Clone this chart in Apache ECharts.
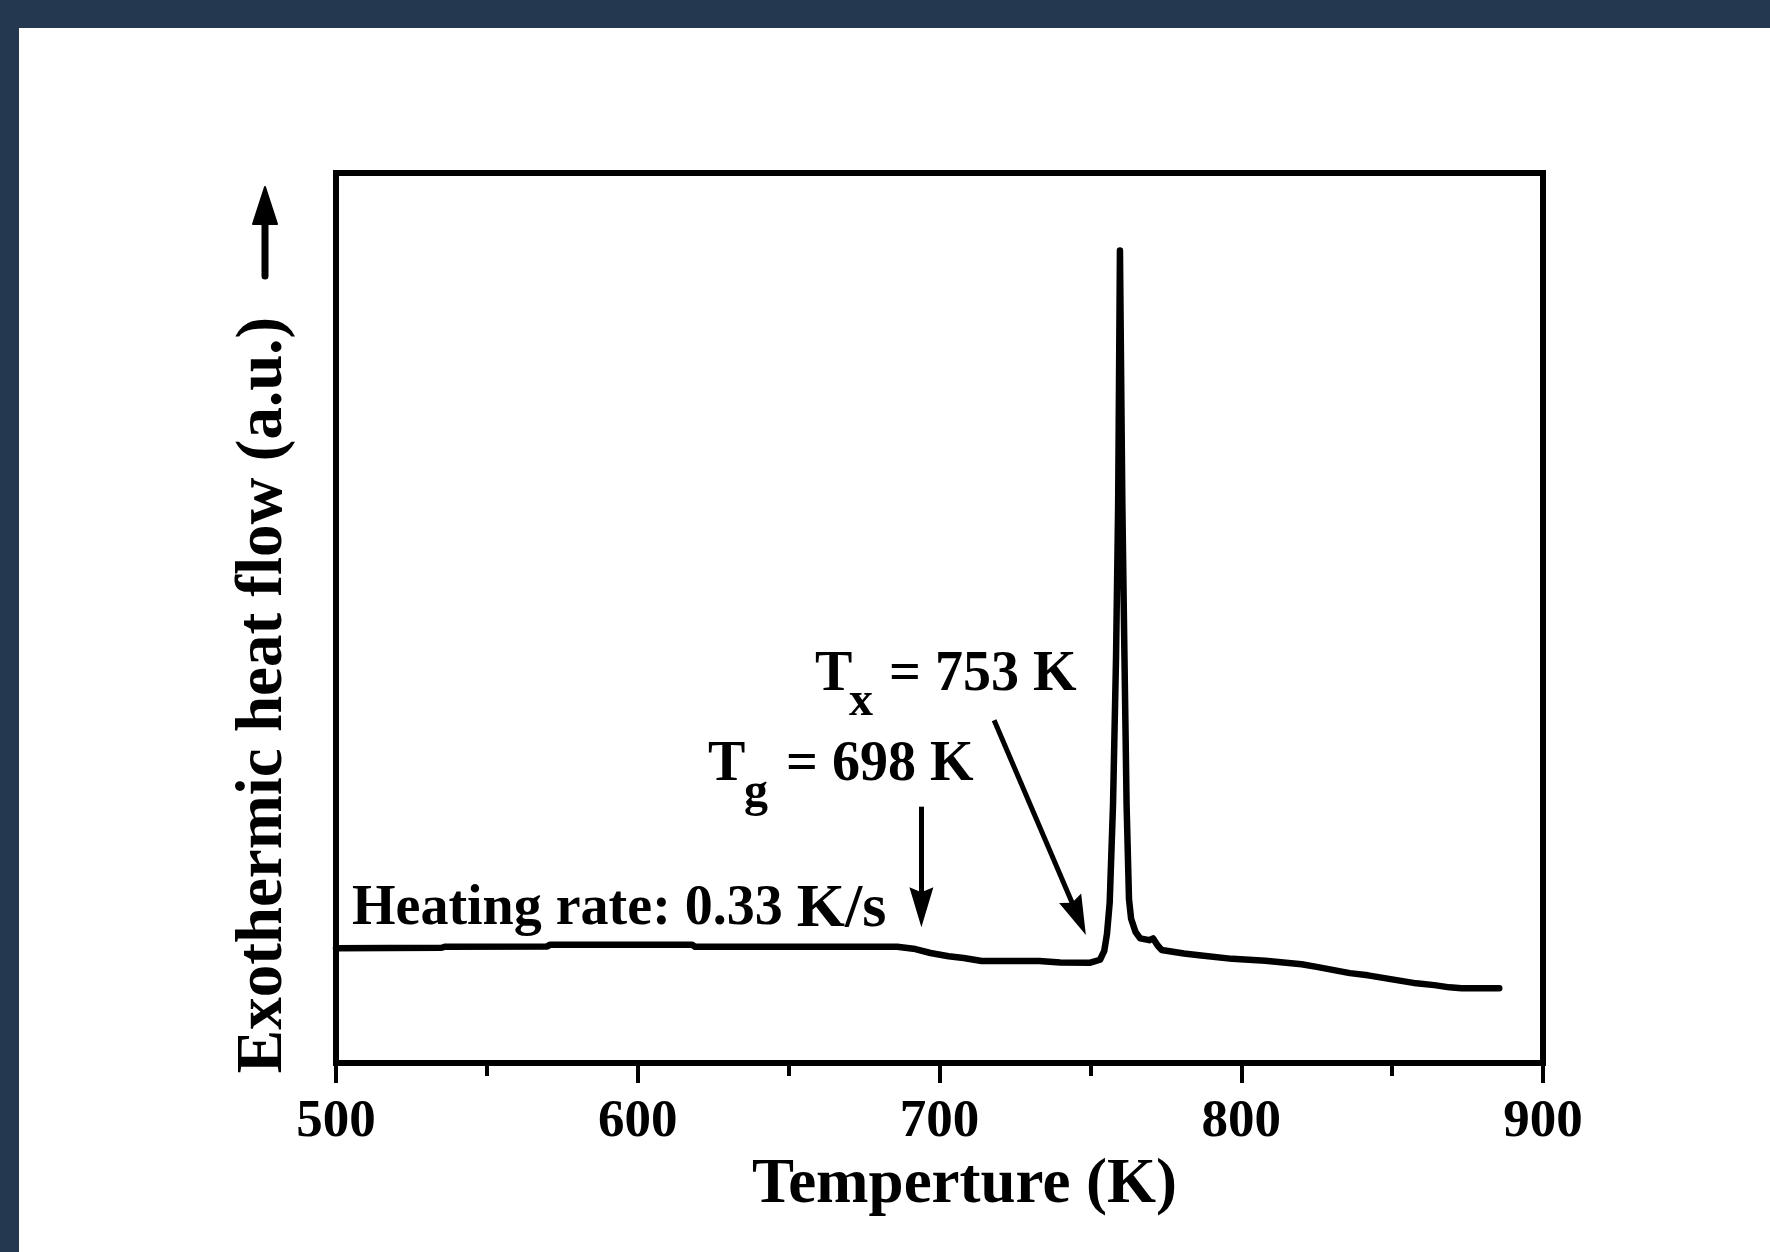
<!DOCTYPE html>
<html>
<head>
<meta charset="utf-8">
<script src="https://cdn.jsdelivr.net/npm/echarts/dist/echarts.min.js"></script>
<style>
  html, body { margin: 0; padding: 0; width: 1770px; height: 1252px; background: #243850; overflow: hidden; }
  #dsc { position: absolute; left: 19px; top: 28px; width: 1751px; height: 1224px; background: #ffffff; }
</style>
</head>
<body>
<div id="dsc"></div>
<script>
// DSC trace (temperature in K, heat flow in arbitrary units)
const temperature = [500, 535, 536, 570, 571, 618, 619, 664, 686, 692,
  697, 703, 708, 714, 733, 740, 750, 753.2, 754.6, 755.5,
  756.4, 757.5, 758.5, 759.2, 759.8, 760.6, 761.3, 762.0, 762.8, 763.5,
  765.0, 766.5, 769.5, 770.8, 772.3, 773.6, 781, 786, 797, 808,
  820, 825, 836, 842, 858, 864, 869, 873, 885.5];
const heatFlow = [12.9, 12.95, 13.05, 13.1, 13.3, 13.3, 13.05, 13.05, 13.07, 12.8,
  12.36, 12.0, 11.8, 11.46, 11.46, 11.3, 11.27, 11.6, 12.6, 14.5,
  18.0, 29, 45.5, 62.6, 91.3, 62.6, 45.5, 29, 18.4, 16.2,
  14.7, 14.0, 13.8, 14.0, 13.2, 12.7, 12.3, 12.1, 11.7, 11.5,
  11.1, 10.8, 10.1, 9.85, 8.95, 8.75, 8.5, 8.4, 8.4];
const xTicks = [500, 600, 700, 800, 900];

// annotation arrows [from, to] in data coords
const tgArrow = [[694, 28.8], [694, 17.5]];
const txArrow = [[718.1, 38.5], [745.9, 16.45]];

const font = 'Liberation Serif';
const arrowHead = 'path://M12,0 L24,40 L12,35 L0,40 Z';

const chart = echarts.init(document.getElementById('dsc'));

function arrowLine(a) {
  return [{ coord: a[0] }, { coord: a[1], symbol: arrowHead, symbolSize: [24, 40] }];
}

const option = {
  animation: false,
  backgroundColor: '#ffffff',
  grid: {
    left: 317, right: 227, top: 145, bottom: 189,
    containLabel: false,
    outerBoundsMode: 'none',
    show: true,
    borderColor: '#000',
    borderWidth: 6
  },
  xAxis: {
    type: 'value',
    min: xTicks[0],
    max: xTicks[xTicks.length - 1],
    interval: 100,
    name: 'Temperture (K)',
    nameLocation: 'middle',
    nameGap: 73,
    nameTextStyle: { fontFamily: font, fontWeight: 'bold', fontSize: 63, color: '#000', padding: [0, 0, 0, 50] },
    axisLine: { show: true, lineStyle: { color: '#000', width: 6 } },
    axisTick: { show: true, inside: false, length: 20, lineStyle: { color: '#000', width: 4 } },
    minorTick: { show: true, splitNumber: 2, length: 13, lineStyle: { color: '#000', width: 4 } },
    axisLabel: { margin: 33, fontFamily: font, fontWeight: 'bold', fontSize: 53, color: '#000', showMinLabel: true, showMaxLabel: true },
    splitLine: { show: false },
    minorSplitLine: { show: false }
  },
  yAxis: {
    type: 'value',
    min: 0,
    max: 100,
    axisLine: { show: false },
    axisTick: { show: false },
    axisLabel: { show: false },
    splitLine: { show: false }
  },
  series: [{
    name: 'DSC',
    type: 'line',
    data: temperature.map((t, i) => [t, heatFlow[i]]),
    showSymbol: false,
    smooth: false,
    lineStyle: { color: '#000', width: 6.5, cap: 'round', join: 'round' },
    markLine: {
      silent: true,
      animation: false,
      symbol: ['none', arrowHead],
      symbolSize: [1, 40],
      label: { show: false },
      lineStyle: { color: '#000', width: 5, type: 'solid' },
      emphasis: { disabled: true },
      data: [arrowLine(tgArrow), arrowLine(txArrow)]
    }
  }],
  graphic: [
    {
      type: 'text', x: 245, y: 667, rotation: Math.PI / 2,
      style: { text: 'Exothermic heat flow (a.u.)', font: 'bold 65px "Liberation Serif"', fill: '#000', align: 'center', verticalAlign: 'middle' }
    },
    {
      type: 'line', shape: { x1: 246, y1: 248, x2: 246, y2: 195 },
      style: { stroke: '#000', lineWidth: 7, lineCap: 'round' }
    },
    {
      type: 'polygon', shape: { points: [[246, 159], [258, 196], [234, 196]] },
      style: { fill: '#000', stroke: '#000', lineWidth: 2, lineJoin: 'round' }
    },
    {
      type: 'text', x: 333, y: 882,
      style: {
        text: '{a|Heating rate: 0.33 }{b|K/s}', fill: '#000', align: 'left', verticalAlign: 'middle',
        rich: {
          a: { fontFamily: font, fontWeight: 'bold', fontSize: 56, fill: '#000' },
          b: { fontFamily: font, fontWeight: 'bold', fontSize: 62, fill: '#000' }
        }
      }
    },
    {
      type: 'text', x: 689, y: 738,
      style: { text: 'T', font: 'bold 56px "Liberation Serif"', fill: '#000', align: 'left', verticalAlign: 'middle' }
    },
    {
      type: 'text', x: 725, y: 766,
      style: { text: 'g', font: 'bold 48px "Liberation Serif"', fill: '#000', align: 'left', verticalAlign: 'middle' }
    },
    {
      type: 'text', x: 767, y: 738,
      style: { text: '= 698 K', font: 'bold 56px "Liberation Serif"', fill: '#000', align: 'left', verticalAlign: 'middle' }
    },
    {
      type: 'text', x: 796, y: 648,
      style: { text: 'T', font: 'bold 56px "Liberation Serif"', fill: '#000', align: 'left', verticalAlign: 'middle' }
    },
    {
      type: 'text', x: 830, y: 675,
      style: { text: 'x', font: 'bold 48px "Liberation Serif"', fill: '#000', align: 'left', verticalAlign: 'middle' }
    },
    {
      type: 'text', x: 870, y: 648,
      style: { text: '= 753 K', font: 'bold 56px "Liberation Serif"', fill: '#000', align: 'left', verticalAlign: 'middle' }
    }
  ]
};

chart.setOption(option);
</script>
</body>
</html>
